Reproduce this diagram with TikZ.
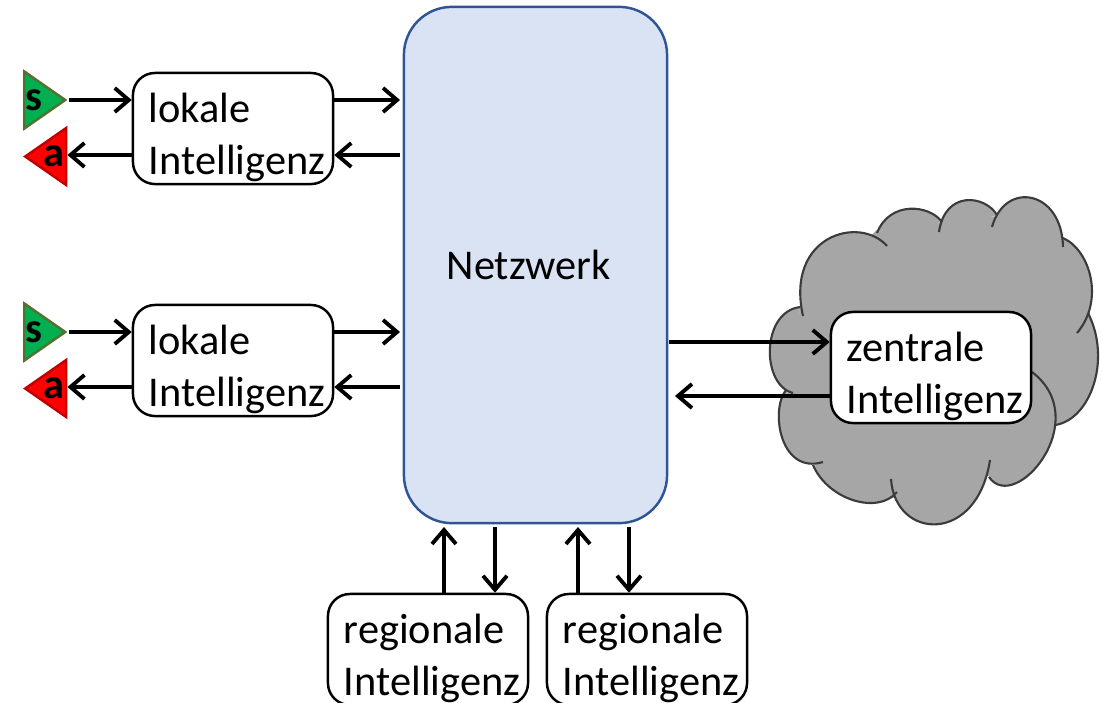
\documentclass[tikz,border=0pt]{standalone}
\usepackage{fontspec}
\setmainfont{Carlito}
\usetikzlibrary{arrows.meta,shapes.geometric}

\definecolor{netzfill}{HTML}{DAE3F3}
\definecolor{netzrand}{HTML}{2F5597}
\definecolor{wolke}{HTML}{A6A6A6}
\definecolor{wolkerand}{HTML}{3B3B3B}
\definecolor{sfill}{HTML}{00B050}
\definecolor{srand}{HTML}{55702F}
\definecolor{arand}{HTML}{C00000}

\newcommand{\intel}{\makebox[1.68cm][l]{Intelligenz}}
\newcommand{\wolkenboegen}{
    800/307/761/312/761/385/793/393,
    786/390/770/410/780/475/823/462,
    813/465/828/500/878/515/897/492,
    891/479/895/540/977/545/990/460,
    989/477/1015/515/1095/420/1032/372,
    1055/425/1090/420/1112/360/1088/313,
    1063/238/1090/250/1105/300/1077/333,
    1063/247/1062/190/1005/180/992/227,
    997/215/985/195/945/190/939/232,
    942/222/930/205/890/200/877/233,
    887/246/860/215/785/235/803/316}

\tikzset{
    x=0.01cm, y=-0.01cm,
    every node/.style={font=\fontsize{12.05}{14.8}\selectfont},
    intelligenz/.style={draw, line width=0.7pt, fill=white, rounded corners=0.22cm,
        minimum width=2cm, minimum height=1.11cm, text width=1.68cm,
        inner xsep=0.16cm, inner ysep=0pt, align=left,
        execute at begin node={\rule{0pt}{0.47cm}}},
    sensor/.style={draw=srand, line width=0.7pt, fill=sfill, isosceles triangle,
        isosceles triangle stretches, shape border rotate=0, inner sep=0pt,
        minimum width=0.57cm, minimum height=0.41cm, anchor=apex},
    aktor/.style={draw=arand, line width=0.7pt, fill=red, isosceles triangle,
        isosceles triangle stretches, shape border rotate=180, inner sep=0pt,
        minimum width=0.57cm, minimum height=0.41cm, anchor=apex},
    pfeil/.style={-{Straight Barb[length=0.14cm,width=0.24cm]}, line width=1.1pt},
}

\begin{document}
\begin{tikzpicture}
    \clip (0,0) rectangle (1102,702);

    % Wolke
    \draw[wolke, fill=wolke, line width=1pt] (802,307) -- (789,391) -- (820,472) -- (890,497)
        -- (989,474) -- (1055,424) -- (1088,313) -- (1063,240) -- (995,218) -- (941,224)
        -- (877,232) -- cycle;
    \foreach \ax/\ay/\bx/\by/\cx/\cy/\dx/\dy in \wolkenboegen
        \fill[wolke] (\ax,\ay) .. controls (\bx,\by) and (\cx,\cy) .. (\dx,\dy);
    \foreach \ax/\ay/\bx/\by/\cx/\cy/\dx/\dy in \wolkenboegen
        \draw[wolkerand, line width=0.6pt] (\ax,\ay) .. controls (\bx,\by) and (\cx,\cy) .. (\dx,\dy);

    \node[draw=netzrand, line width=0.7pt, fill=netzfill, rounded corners=0.48cm,
        minimum width=2.63cm, minimum height=5.16cm] (N) at (535.5,265)
        {\raisebox{-0.02cm}{Netzwerk}\rule{0.14cm}{0pt}};

    \node[intelligenz] (L1) at (233,128.5) {lokale\\\intel};
    \node[intelligenz] (L2) at (233,360.5) {lokale\\\intel};
    \node[intelligenz] (Z) at (931,367.5) {zentrale\\\intel};
    \node[intelligenz] (R1) at (428,649.5) {regionale\\\intel};
    \node[intelligenz] (R2) at (647,649.5) {regionale\\\intel};

    \node[sensor] (S1) at (68.5,100) {\makebox[0pt]{\raisebox{-0.03cm}{\bfseries s}}};
    \node[aktor] (A1) at (22,156.5) {\makebox[0pt]{\raisebox{-0.01cm}{\bfseries a}\rule{0.05cm}{0pt}}};
    \node[sensor] (S2) at (68.5,332) {\makebox[0pt]{\raisebox{-0.03cm}{\bfseries s}}};
    \node[aktor] (A2) at (22,388.5) {\makebox[0pt]{\raisebox{-0.01cm}{\bfseries a}\rule{0.05cm}{0pt}}};

    \coordinate (N1) at (400,100);
    \coordinate (N2) at (400,155);
    \coordinate (N3) at (400,332);
    \coordinate (N4) at (400,387);
    \coordinate (N5) at (669,342);
    \coordinate (N6) at (675,396);
    \coordinate (N7) at (444,527);
    \coordinate (N8) at (495,527);
    \coordinate (N9) at (578,527);
    \coordinate (N10) at (629,527);

    \draw[pfeil] (S1.apex) -- (L1.west |- S1.apex);
    \draw[pfeil] (L1.west |- N2) -- (A1.east |- N2);
    \draw[pfeil] (L1.east |- N1) -- (N1);
    \draw[pfeil] (N2) -- (L1.east |- N2);

    \draw[pfeil] (S2.apex) -- (L2.west |- S2.apex);
    \draw[pfeil] (L2.west |- N4) -- (A2.east |- N4);
    \draw[pfeil] (L2.east |- N3) -- (N3);
    \draw[pfeil] (N4) -- (L2.east |- N4);

    \draw[pfeil] (N5) -- (Z.west |- N5);
    \draw[pfeil] (Z.west |- N6) -- (N6);

    \draw[pfeil] (R1.north -| N7) -- (N7);
    \draw[pfeil] (N8) -- (R1.north -| N8);
    \draw[pfeil] (R2.north -| N9) -- (N9);
    \draw[pfeil] (N10) -- (R2.north -| N10);
\end{tikzpicture}
\end{document}
